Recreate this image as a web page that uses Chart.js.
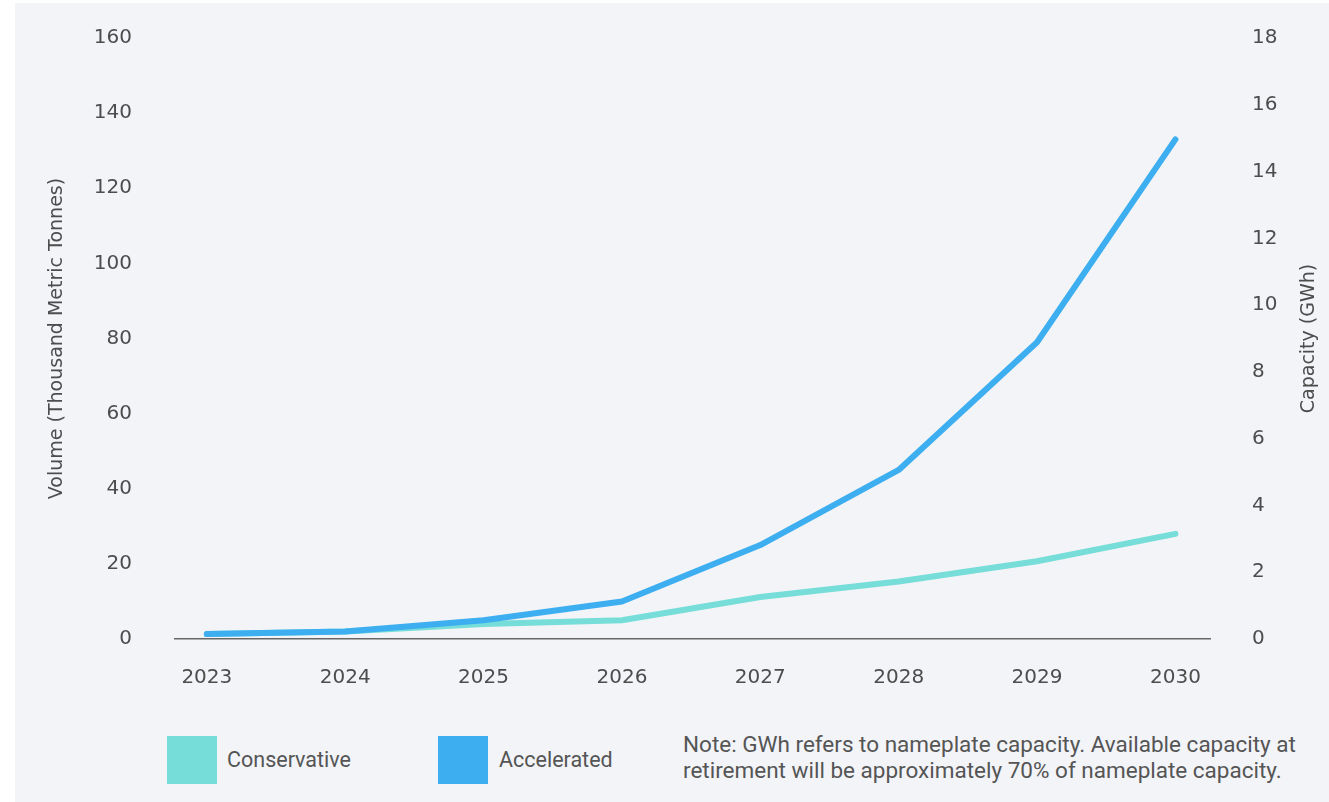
<!DOCTYPE html>
<html>
<head>
<meta charset="utf-8">
<script src="https://cdn.jsdelivr.net/npm/chart.js@4"></script>
<style>
  html, body { margin: 0; padding: 0; background: #ffffff; }
  #page { position: absolute; left: 15px; top: 3px; width: 1314px; height: 799px; background: #f2f4f8; }
  #wrap { position: absolute; left: 0; top: 0; width: 1329px; height: 720px; }
  .legend-box { position: absolute; width: 50px; height: 48px; top: 736px; }
  .legend-text { position: absolute; top: 747px; font-family: Roboto, sans-serif; font-size: 21.5px; color: #555; }
  #note { position: absolute; left: 683px; top: 731px; font-family: Roboto, sans-serif; font-size: 22.5px; line-height: 26px; color: #555; }
</style>
</head>
<body>
<div id="page"></div>
<div id="wrap"><canvas id="chart" width="1329" height="720"></canvas></div>
<div class="legend-box" style="left:167px;background:#76ddd8;"></div>
<div class="legend-text" style="left:227px;">Conservative</div>
<div class="legend-box" style="left:438px;background:#3daef0;"></div>
<div class="legend-text" style="left:499px;">Accelerated</div>
<div id="note">Note: GWh refers to nameplate capacity. Available capacity at<br>retirement will be approximately 70% of nameplate capacity.</div>
<script>
// Data
const years = [2023, 2024, 2025, 2026, 2027, 2028, 2029, 2030];
const conservative = [1.3, 2, 4, 5, 11.2, 15.3, 20.7, 28];
const accelerated = [1.3, 2, 5, 10, 25, 45, 79, 133];
const volumeTicks = [0, 20, 40, 60, 80, 100, 120, 140, 160];
const capacityTicks = [0, 2, 4, 6, 8, 10, 12, 14, 16, 18];

const textColor = "#4d4d4d";
const tickFont = { family: "'DejaVu Sans', sans-serif", size: 20 };

function toPoints(values) {
    return years.map((yr, i) => ({ x: yr, y: values[i] }));
}

// fixed width for a y axis, and no extra room asked for its end labels
function fitY(width) {
    return (scale) => {
        scale.width = width;
        scale.paddingTop = 0;
        scale.paddingBottom = 0;
    };
}

// Axis titles drawn by hand so the right one reads bottom to top
const axisTitles = {
    id: "axisTitles",
    afterDraw(chart) {
        const ctx = chart.ctx;
        const area = chart.chartArea;
        const mid = (area.top + area.bottom) / 2;
        ctx.save();
        ctx.fillStyle = textColor;
        ctx.font = "19px 'DejaVu Sans', sans-serif";
        ctx.textAlign = "center";
        ctx.textBaseline = "middle";
        [[57, "Volume (Thousand Metric Tonnes)"], [1309, "Capacity (GWh)"]].forEach(([x, label]) => {
            ctx.save();
            ctx.translate(x, mid);
            ctx.rotate(-Math.PI / 2);
            ctx.fillText(label, 0, 0);
            ctx.restore();
        });
        ctx.restore();
    }
};

new Chart(document.getElementById("chart"), {
    type: "line",
    data: {
        datasets: [
            {
                label: "Accelerated",
                data: toPoints(accelerated),
                borderColor: "#3daef0",
                borderWidth: 6,
                borderCapStyle: "round",
                borderJoinStyle: "round",
                pointRadius: 0,
                order: 0
            },
            {
                label: "Conservative",
                data: toPoints(conservative),
                borderColor: "#76ddd8",
                borderWidth: 6,
                borderCapStyle: "round",
                borderJoinStyle: "round",
                pointRadius: 0,
                order: 1
            }
        ]
    },
    options: {
        responsive: false,
        animation: false,
        layout: { padding: { top: 38, left: 0, right: 0, bottom: 0 } },
        plugins: { legend: { display: false }, tooltip: { enabled: false } },
        scales: {
            x: {
                type: "linear",
                min: 2022.77,
                max: 2030.25,
                afterBuildTicks: (scale) => { scale.ticks = years.map((v) => ({ value: v })); },
                afterFit: (scale) => { scale.height = 81; },
                grid: { display: false },
                border: { display: true, color: "#666666", width: 1.5 },
                ticks: {
                    color: textColor,
                    font: tickFont,
                    padding: 19,
                    maxRotation: 0,
                    autoSkip: false,
                    callback: (v) => String(v)
                }
            },
            y: {
                position: "left",
                min: 0,
                max: 160,
                afterBuildTicks: (scale) => { scale.ticks = volumeTicks.map((v) => ({ value: v })); },
                afterFit: fitY(175),
                grid: { display: false },
                border: { display: false },
                ticks: { color: textColor, font: tickFont, padding: 35 }
            },
            y1: {
                position: "right",
                min: 0,
                max: 18,
                afterBuildTicks: (scale) => { scale.ticks = capacityTicks.map((v) => ({ value: v })); },
                afterFit: fitY(119),
                grid: { display: false },
                border: { display: false },
                ticks: { color: textColor, font: tickFont, padding: 34 }
            }
        }
    },
    plugins: [axisTitles]
});
</script>
</body>
</html>
